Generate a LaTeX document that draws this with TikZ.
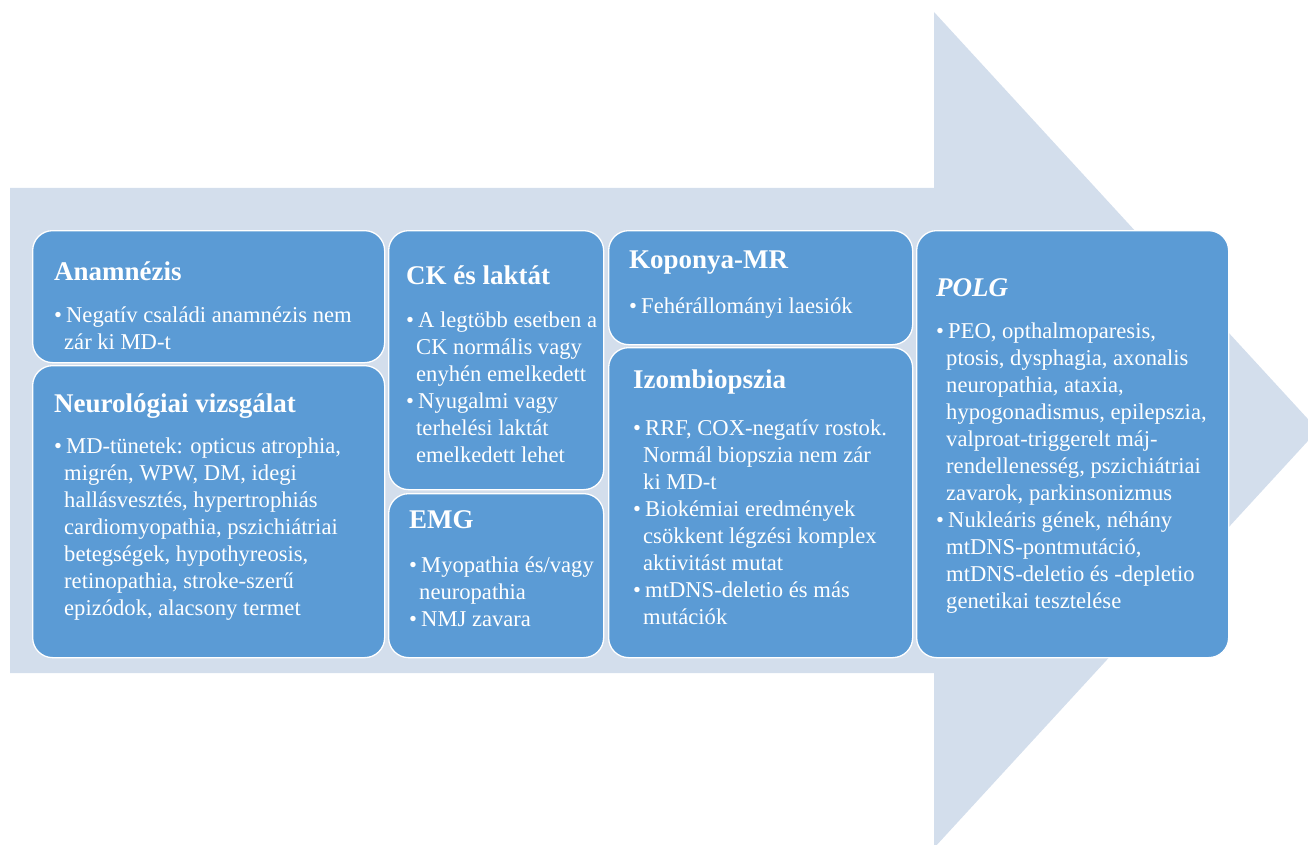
\documentclass[tikz,border=0pt]{standalone}
\usepackage{fontspec}
\setmainfont{Liberation Serif}
\definecolor{nyil}{RGB}{211,222,236}
\definecolor{kek}{RGB}{91,155,213}
\tikzset{
  blok/.style={draw=white, line width=1.3pt, fill=kek, rounded corners=20pt, anchor=north west, inner sep=0pt},
  szoveg/.style={anchor=base west, inner sep=0pt, text=white, font=\fontsize{22.6}{27}\selectfont},
}
\newcommand{\cim}[2][16pt]{\hbox{\fontsize{27}{27}\selectfont\bfseries #2}\vskip #1}
\newcommand{\pont}[1]{\hbox{\makebox[12pt][l]{•}#1}}
\newcommand{\tovabb}[1]{\hbox{\hspace*{10pt}#1}}
\begin{document}
\begin{tikzpicture}[x=1pt, y=-1pt]
			\useasboundingbox (0,0) rectangle (1308,845);
			\clip (0,0) rectangle (1308,845);
			% the big arrow behind the boxes
			\fill[nyil] (10,188)--(934,188)--(934,12)--(1318,430)--(934,848)--(934,673)--(10,673)--cycle;
			% boxes
			\node[blok, minimum width=352pt, minimum height=132pt] (anam) at (32,230) {};
			\node[blok, minimum width=352pt, minimum height=292pt] (neuro) at (32,365) {};
			\node[blok, minimum width=215pt, minimum height=259pt] (ck) at (388,230) {};
			\node[blok, minimum width=215pt, minimum height=164pt] (emg) at (388,493) {};
			\node[blok, minimum width=304pt, minimum height=114pt] (kopo) at (608,230) {};
			\node[blok, minimum width=304pt, minimum height=310pt] (izom) at (608,347) {};
			\node[blok, minimum width=312pt, minimum height=427pt] (polg) at (916,230) {};
			% texts
			\node[szoveg] (anamt) at (54,280) {\vtop{\cim[15pt]{Anamnézis}
				\pont{Negatív családi anamnézis nem}
				\tovabb{zár ki MD-t}}};
			\node[szoveg] (neurot) at (54,412) {\vtop{\cim[14pt]{Neurológiai vizsgálat}
				\pont{MD-tünetek: opticus atrophia,}
				\tovabb{migrén, WPW, DM, idegi}
				\tovabb{hallásvesztés, hypertrophiás}
				\tovabb{cardiomyopathia, pszichiátriai}
				\tovabb{betegségek, hypothyreosis,}
				\tovabb{retinopathia, stroke-szerű}
				\tovabb{epizódok, alacsony termet}}};
			\node[szoveg] (ckt) at (406,284) {\vtop{\cim{CK és laktát}
				\pont{A legtöbb esetben a}
				\tovabb{CK normális vagy}
				\tovabb{enyhén emelkedett}
				\pont{Nyugalmi vagy}
				\tovabb{terhelési laktát}
				\tovabb{emelkedett lehet}}};
			\node[szoveg] (emgt) at (409,528) {\vtop{\cim[17pt]{EMG}
				\pont{Myopathia és/vagy}
				\tovabb{neuropathia}
				\pont{NMJ zavara}}};
			\node[szoveg] (kopot) at (629,268) {\vtop{\cim[18pt]{Koponya-MR}
				\pont{Fehérállományi laesiók}}};
			\node[szoveg] (izomt) at (633,388) {\vtop{\cim[20pt]{Izombiopszia}
				\pont{RRF, COX-negatív rostok.}
				\tovabb{Normál biopszia nem zár}
				\tovabb{ki MD-t}
				\pont{Biokémiai eredmények}
				\tovabb{csökkent légzési komplex}
				\tovabb{aktivitást mutat}
				\pont{mtDNS-deletio és más}
				\tovabb{mutációk}}};
			\node[szoveg] (polgt) at (936,296) {\vtop{\cim[15pt]{\itshape POLG}
				\pont{PEO, opthalmoparesis,}
				\tovabb{ptosis, dysphagia, axonalis}
				\tovabb{neuropathia, ataxia,}
				\tovabb{hypogonadismus, epilepszia,}
				\tovabb{valproat-triggerelt máj-}
				\tovabb{rendellenesség, pszichiátriai}
				\tovabb{zavarok, parkinsonizmus}
				\pont{Nukleáris gének, néhány}
				\tovabb{mtDNS-pontmutáció,}
				\tovabb{mtDNS-deletio és -depletio}
				\tovabb{genetikai tesztelése}}};
		\end{tikzpicture}
\end{document}
